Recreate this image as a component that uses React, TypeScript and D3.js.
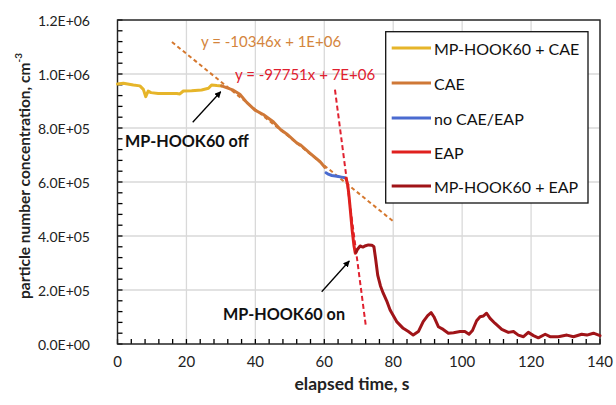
import React from "react";
import * as d3 from "d3";

const W = 616;
const H = 405;

const xTicks = [0, 20, 40, 60, 80, 100, 120, 140];
const yTicks = [0, 200000, 400000, 600000, 800000, 1000000, 1200000];
const yTickLabels = ["0.0E+00", "2.0E+05", "4.0E+05", "6.0E+05", "8.0E+05", "1.0E+06", "1.2E+06"];

const yellowX = [0, 1.7, 4.6, 6.5, 7.5, 8.2, 8.9, 9.7, 11.8, 14.7, 17.2, 18.1, 19.1, 21.5, 24.4, 26.4, 27.3, 28.8, 30.2];
const yellowY = [963000, 966000, 959000, 956000, 943000, 916000, 937000, 931000, 928000, 928000, 928000, 926000, 937000, 938000, 941000, 947000, 959000, 957000, 956000];

const orangeX = [30.2, 32.6, 33.6, 35.5, 37.5, 39.9, 42.3, 45.2, 47.2, 49.1, 52.0, 53.0, 55.9, 58.8, 60.2];
const orangeY = [956000, 945000, 940000, 925000, 895000, 866000, 850000, 823000, 795000, 778000, 745000, 738000, 706000, 675000, 654000];

const blueX = [60.5, 61.3, 62.2, 63.2, 64.1, 65.0, 66.0];
const blueY = [634000, 628000, 624000, 622000, 620000, 618000, 616000];

const redX = [66.3, 66.8, 67.2, 67.6, 68.1, 68.6, 69.0];
const redY = [614000, 590000, 545000, 490000, 420000, 365000, 336000];

const darkRedX = [69.2, 69.6, 70.4, 71.2, 72.0, 72.8, 73.8, 74.4, 74.9, 75.5, 76.3, 77.1, 78.1, 79.1, 81.0, 82.9, 84.4, 85.8, 87.3, 88.7, 90.0, 91.0, 91.8, 93.1, 94.5, 96.0, 97.5, 99.4, 100.8, 102.0, 103.0, 104.2, 105.2, 106.2, 107.1, 108.1, 109.5, 111.5, 113.4, 114.9, 116.3, 117.8, 119.2, 120.7, 122.1, 124.1, 125.5, 127.9, 130.4, 132.3, 134.7, 136.2, 138.1, 140];
const darkRedY = [340000, 350000, 363000, 359000, 364000, 367000, 366000, 360000, 315000, 255000, 215000, 188000, 160000, 126000, 83000, 58000, 46000, 33000, 46000, 83000, 105000, 116000, 101000, 64000, 54000, 40000, 42000, 46000, 46000, 36000, 50000, 86000, 101000, 104000, 114000, 95000, 77000, 54000, 43000, 46000, 33000, 27000, 43000, 31000, 23000, 36000, 27000, 27000, 33000, 27000, 36000, 33000, 40000, 31000];

// trendlines: y = slope * x + intercept
const trend1 = { slope: -10346, intercept: 1282000, x0: 15.8, x1: 80, label: "y = -10346x + 1E+06" };
const trend2 = { slope: -97751, intercept: 7110000, x0: 63.1, x1: 72.1, label: "y = -97751x + 7E+06" };

const legendNames = ["MP-HOOK60 + CAE", "CAE", "no CAE/EAP", "EAP", "MP-HOOK60 + EAP"];
const colors = ["#E6B52A", "#CF7837", "#4A6BD0", "#E0201E", "#A01418"];

const FONT = "Lato, 'Open Sans', sans-serif";

export default function App() {
  const left = 117.5, right = 600, top = 20, bottom = 344;
  const x = d3.scaleLinear().domain([0, 140]).range([left, right]);
  const y = d3.scaleLinear().domain([0, 1200000]).range([bottom, top]);

  const mk = (xs: number[], ys: number[]) =>
    d3.line<number>().x((_, i) => x(xs[i])).y((_, i) => y(ys[i]))(xs.map((_, i) => i)) || "";

  const series = [
    mk(yellowX, yellowY),
    mk(orangeX, orangeY),
    mk(blueX, blueY),
    mk(redX, redY),
    mk(darkRedX, darkRedY),
  ];

  const xMinor = d3.range(0, 141, 4);
  const yMinor = d3.range(0, 1200001, 40000);

  const tl = (t: typeof trend1) => ({
    x1: x(t.x0), y1: y(t.slope * t.x0 + t.intercept),
    x2: x(t.x1), y2: y(t.slope * t.x1 + t.intercept),
  });
  const t1 = tl(trend1);
  const t2 = tl(trend2);

  const legendY = [48, 83, 118, 152, 186];

  return (
    <svg width={W} height={H} style={{ position: "absolute", left: 0, top: 0, background: "#fff" }} fontFamily={FONT}>
      <defs>
        <marker id="ah" viewBox="0 0 10 10" refX="9" refY="5" markerWidth="5" markerHeight="5" orient="auto" markerUnits="strokeWidth">
          <path d="M0,0 L10,5 L0,10 z" fill="#000" />
        </marker>
      </defs>
      <rect x={0} y={0} width={W} height={H} fill="#fff" />
      {/* grid */}
      {xTicks.map((t) => (
        <line key={"gx" + t} x1={x(t)} x2={x(t)} y1={top} y2={bottom} stroke="#d9d9d9" strokeWidth={1.3} />
      ))}
      {yTicks.map((t) => (
        <line key={"gy" + t} x1={left} x2={right} y1={y(t)} y2={y(t)} stroke="#d9d9d9" strokeWidth={1.3} />
      ))}
      {/* minor ticks */}
      {xMinor.map((t) => (
        <line key={"mx" + t} x1={x(t)} x2={x(t)} y1={bottom} y2={bottom - 5} stroke="#000" strokeWidth={1.3} />
      ))}
      {yMinor.map((t) => (
        <line key={"my" + t} x1={left} x2={left + 5} y1={y(t)} y2={y(t)} stroke="#000" strokeWidth={1.3} />
      ))}
      {/* border */}
      <rect x={left} y={top} width={right - left} height={bottom - top} fill="none" stroke="#222" strokeWidth={1.4} />
      {/* tick labels */}
      {yTicks.map((t, i) => (
        <text key={"ly" + t} x={90} y={y(t)} textAnchor="end" dominantBaseline="central" fontSize={14} fill="#222">
          {yTickLabels[i]}
        </text>
      ))}
      {xTicks.map((t) => (
        <text key={"lx" + t} x={x(t)} y={361} textAnchor="middle" dominantBaseline="central" fontSize={15} fill="#222">
          {t}
        </text>
      ))}
      {/* axis titles */}
      <text x={352} y={383} textAnchor="middle" dominantBaseline="central" fontSize={17.5} fontWeight="bold" fill="#222">
        elapsed time, s
      </text>
      <text transform="translate(24,176) rotate(-90)" textAnchor="middle" dominantBaseline="central" fontSize={15.5} fontWeight="bold" fill="#222">
        particle number concentration, cm<tspan dy={-6} fontSize={10}>-3</tspan>
      </text>
      {/* trendlines */}
      <line {...t1} stroke="#D5782F" strokeWidth={2} strokeDasharray="4,3" />
      <line {...t2} stroke="#E0202F" strokeWidth={2} strokeDasharray="5,3" />
      {/* series */}
      {series.map((d, i) => (
        <path key={"s" + i} d={d} fill="none" stroke={colors[i]} strokeWidth={3} strokeLinejoin="round" strokeLinecap="round" />
      ))}
      {/* trend labels */}
      <text x={201} y={41} dominantBaseline="central" fontSize={15} fill="#D4853C">{trend1.label}</text>
      <text x={235} y={74} dominantBaseline="central" fontSize={15} fill="#E0202F">{trend2.label}</text>
      {/* annotations */}
      <line x1={192.7} y1={122.3} x2={220.7} y2={91.7} stroke="#000" strokeWidth={1.3} markerEnd="url(#ah)" />
      <line x1={321.7} y1={291.7} x2={349.3} y2={261} stroke="#000" strokeWidth={1.3} markerEnd="url(#ah)" />
      <text x={125} y={140} dominantBaseline="central" fontSize={16.2} fontWeight="bold" fill="#111">MP-HOOK60 off</text>
      <text x={223} y={313} dominantBaseline="central" fontSize={16.2} fontWeight="bold" fill="#111">MP-HOOK60 on</text>
      {/* legend */}
      <rect x={385.7} y={31.7} width={202.3} height={171.3} fill="#fff" stroke="#111" strokeWidth={1.3} />
      {legendNames.map((n, i) => (
        <g key={"lg" + i}>
          <line x1={391.7} x2={431} y1={legendY[i]} y2={legendY[i]} stroke={colors[i]} strokeWidth={3} />
          <text x={434} y={legendY[i]} dominantBaseline="central" fontSize={16} fill="#111">{n}</text>
        </g>
      ))}
    </svg>
  );
}
